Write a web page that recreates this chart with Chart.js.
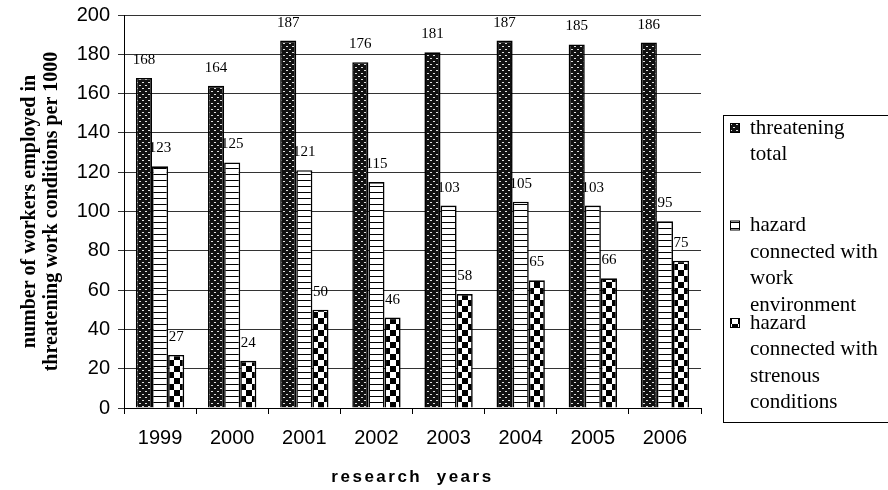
<!DOCTYPE html>
<html>
<head>
<meta charset="utf-8">
<script src="https://cdn.jsdelivr.net/npm/chart.js@4/dist/chart.umd.min.js"></script>
<style>
  html, body { margin: 0; padding: 0; background: #fff; }
</style>
</head>
<body>
<canvas id="chart" width="888" height="490"></canvas>
<script>
// ---- data ----
const years = ['1999', '2000', '2001', '2002', '2003', '2004', '2005', '2006'];
const threateningTotal = [168, 164, 187, 176, 181, 187, 185, 186];
const workEnvironment = [123, 125, 121, 115, 103, 105, 103, 95];
const strenuousConditions = [27, 24, 50, 46, 58, 65, 66, 75];
const seriesNames = [
  ['threatening', 'total'],
  ['hazard', 'connected with', 'work', 'environment'],
  ['hazard', 'connected with', 'strenous', 'conditions']
];
const yAxisTitle = ['number of workers employed in', 'threatening work conditions per 1000'];
const xAxisTitle = 'research  years';

// ---- fill patterns ----
function makePattern(w, h, paint) {
  const c = document.createElement('canvas');
  c.width = w; c.height = h;
  const g = c.getContext('2d');
  paint(g);
  return c.getContext('2d').createPattern(c, 'repeat');
}
// dark fill sprinkled with light dashes
const dottedPattern = makePattern(6, 6, g => {
  g.fillStyle = '#111'; g.fillRect(0, 0, 6, 6);
  g.fillStyle = '#e0e0e0';
  g.fillRect(1, 1, 2, 1);
  g.fillRect(4, 4, 2, 1);
});
// white fill with horizontal rules
const stripedPattern = makePattern(6, 6, g => {
  g.fillStyle = '#fff'; g.fillRect(0, 0, 6, 6);
  g.fillStyle = '#000'; g.fillRect(0, 0, 6, 1);
});
// large black/white checkerboard
const checkerPattern = makePattern(12, 12, g => {
  g.fillStyle = '#fff'; g.fillRect(0, 0, 12, 12);
  g.fillStyle = '#000';
  g.fillRect(0, 0, 6, 6);
  g.fillRect(6, 6, 6, 6);
});
const fills = [dottedPattern, stripedPattern, checkerPattern];

// value labels, painted before the bars so neighbouring bars overlap them
const valueLabels = {
  id: 'valueLabels',
  beforeDatasetsDraw(chart) {
    const ctx = chart.ctx;
    ctx.save();
    ctx.font = '15px "Liberation Serif", "Times New Roman", serif';
    ctx.fillStyle = '#000';
    ctx.textAlign = 'center';
    ctx.textBaseline = 'alphabetic';
    chart.data.datasets.forEach((ds, i) => {
      chart.getDatasetMeta(i).data.forEach((bar, j) => {
        ctx.fillText(String(ds.data[j]), bar.x, bar.y - 14);
      });
    });
    ctx.restore();
  }
};

// boxed legend with wrapped series names
const boxedLegend = {
  id: 'boxedLegend',
  afterDraw(chart) {
    const ctx = chart.ctx;
    const left = 723, top = 115, bottom = 422, right = 888;
    ctx.save();
    ctx.strokeStyle = '#000';
    ctx.lineWidth = 1;
    ctx.strokeRect(left + 0.5, top + 0.5, right - left, bottom - top);
    ctx.font = '21px "Liberation Serif", "Times New Roman", serif';
    ctx.textAlign = 'left';
    ctx.textBaseline = 'middle';
    chart.data.datasets.forEach((ds, i) => {
      const y0 = 128 + i * 97.5;
      ctx.fillStyle = fills[i];
      ctx.fillRect(730, y0 - 5, 10, 10);
      ctx.strokeStyle = '#000';
      ctx.strokeRect(730.5, y0 - 4.5, 9, 9);
      ctx.fillStyle = '#000';
      seriesNames[i].forEach((line, k) => {
        ctx.fillText(line, 750, y0 + k * 26.5);
      });
    });
    ctx.restore();
  }
};

// letter-spaced x-axis title
const spacedTitle = {
  id: 'spacedTitle',
  afterLayout(chart) {
    const s = chart.scales.x;
    if (s && !s.__spaced) {
      const orig = s.drawTitle.bind(s);
      s.drawTitle = function () {
        this.ctx.save();
        this.ctx.letterSpacing = '2.5px';
        orig();
        this.ctx.restore();
      };
      s.__spaced = true;
    }
  }
};

const barStyle = {
  borderColor: '#000',
  borderWidth: 1.6,
  categoryPercentage: 0.67,
  barPercentage: 1.0
};

new Chart(document.getElementById('chart'), {
  type: 'bar',
  data: {
    labels: years,
    datasets: [
      Object.assign({ label: seriesNames[0].join(' '), data: threateningTotal, backgroundColor: fills[0] }, barStyle),
      Object.assign({ label: seriesNames[1].join(' '), data: workEnvironment, backgroundColor: fills[1] }, barStyle),
      Object.assign({ label: seriesNames[2].join(' '), data: strenuousConditions, backgroundColor: fills[2] }, barStyle)
    ]
  },
  options: {
    responsive: false,
    animation: false,
    devicePixelRatio: 1,
    layout: { padding: { top: 15, right: 187, left: 0, bottom: 0 } },
    plugins: {
      legend: { display: false },
      tooltip: { enabled: false }
    },
    scales: {
      x: {
        grid: { display: true, drawOnChartArea: false, drawTicks: true, tickLength: 6, color: '#000', offset: true },
        border: { display: true, color: '#000', width: 1 },
        ticks: {
          font: { family: '"Liberation Sans", Arial, sans-serif', size: 20 },
          color: '#000', padding: 12, maxRotation: 0
        },
        title: {
          display: true, text: xAxisTitle, color: '#000',
          font: { family: '"Liberation Sans", Arial, sans-serif', weight: 'bold', size: 17 },
          padding: { top: 0, bottom: 2 }
        },
        afterFit(scale) { scale.height = 82; }
      },
      y: {
        min: 0, max: 200,
        grid: { color: '#333', tickLength: 6, drawTicks: true },
        border: { display: true, color: '#000', width: 1 },
        ticks: {
          stepSize: 20,
          font: { family: '"Liberation Sans", Arial, sans-serif', size: 20 },
          color: '#000', padding: 8
        },
        title: {
          display: true, text: yAxisTitle, color: '#000',
          font: { family: '"Liberation Serif", "Times New Roman", serif', weight: 'bold', size: 20, lineHeight: 1.1 },
          padding: { top: 19, bottom: 0 }
        },
        afterFit(scale) {
          scale.width = 124;
          scale.paddingTop = 0;
          scale.paddingBottom = 0;
        }
      }
    }
  },
  plugins: [valueLabels, boxedLegend, spacedTitle]
});
</script>
</body>
</html>
